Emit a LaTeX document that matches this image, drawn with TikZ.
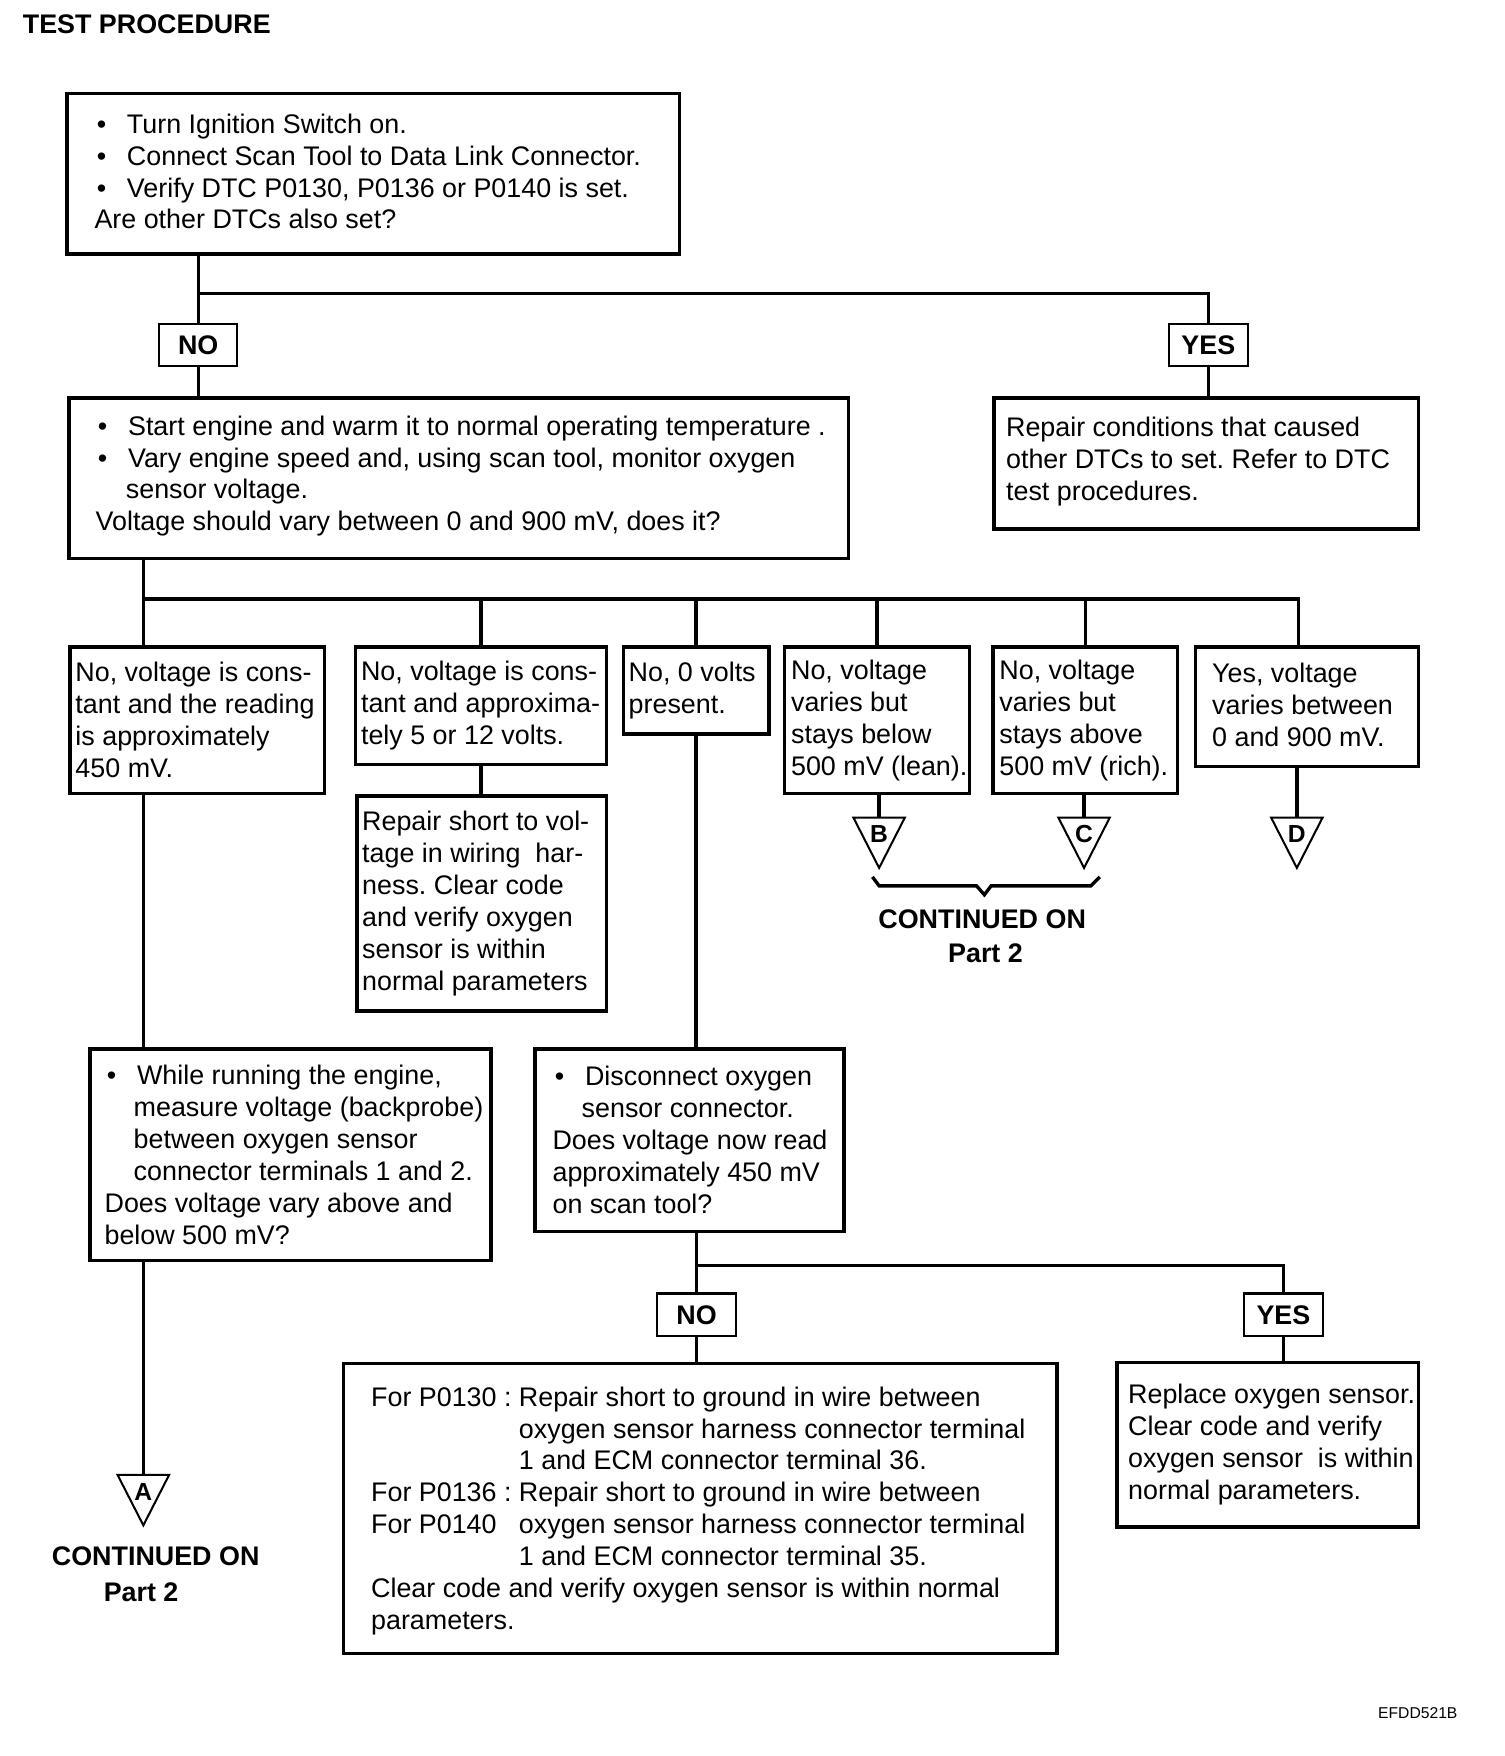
\documentclass[tikz,border=0pt]{standalone}
\usepackage{fontspec}
\setmainfont{Liberation Sans}
\frenchspacing

\tikzset{
  box/.style={draw, line width=1.6pt, anchor=north west, inner sep=0pt},
  txt/.style={anchor=west, align=left, inner sep=0pt, font=\fontsize{12}{14.25}\selectfont},
  tag/.style={draw, line width=0.9pt, minimum width=35pt, minimum height=19pt, inner sep=0pt, font=\bfseries\fontsize{12}{14}\selectfont},
  wire/.style={line width=1.5pt},
  tri/.style={line width=0.9pt, line join=miter},
  lettr/.style={inner sep=0pt, font=\bfseries\fontsize{11}{12}\selectfont},
  cont/.style={inner sep=0pt, font=\bfseries\fontsize{12}{14}\selectfont},
}
\newcommand{\itm}{\makebox[14.5pt][l]{\hspace*{1pt}\textbullet}}
\newcommand{\offpage}[3]{%
  \coordinate (#1) at #2;
  \draw[tri] (#1) ++(-23,0) -- ++(46,0) -- ++(-23,45) -- cycle;
  \node[lettr] (#1l) at ([yshift=-7.5pt]#1) {#3};}

\begin{document}
\begin{tikzpicture}[x=0.5pt, y=-0.5pt]
        \useasboundingbox (0,0) rectangle (1343,1568);

        \node[anchor=west, inner sep=0pt, font=\bfseries\fontsize{12}{14}\selectfont] (title) at (20,22) {TEST PROCEDURE};

        \node[box, minimum width=273.5pt, minimum height=71.5pt] (chk) at (58,82) {};
        \node[txt] (chktxt) at ([xshift=13pt,yshift=1pt]chk.west) {\itm Turn Ignition Switch on.\\
            \itm Connect Scan Tool to Data Link Connector.\\
            \itm Verify DTC P0130, P0136 or P0140 is set.\\
            Are other DTCs also set?};

        \node[tag] (no1) at (177,308) {NO};
        \node[tag] (yes1) at (1079,308) {YES};
        \coordinate (fork1) at (177,262);
        \draw[wire] (chk.south -| fork1) -- (no1.north);
        \draw[wire] (fork1) -| (yes1.north);

        \node[box, minimum width=348pt, minimum height=71.5pt] (run) at (60,354) {};
        \node[txt] (runtxt) at ([xshift=12.5pt,yshift=1pt]run.west) {\itm Start engine and warm it to normal operating temperature .\\
            \itm Vary engine speed and, using scan tool, monitor oxygen\\
            \hspace*{13.5pt}sensor voltage.\\
            Voltage should vary between 0 and 900 mV, does it?};
        \draw[wire] (no1.south) -- (no1.south |- run.north);

        \node[box, minimum width=189.5pt, minimum height=58.5pt] (other) at (886,354) {};
        \node[txt] (othertxt) at ([xshift=6pt,yshift=1pt]other.west) {Repair conditions that caused\\
            other DTCs to set. Refer to DTC\\
            test procedures.};
        \draw[wire] (yes1.south) -- (yes1.south |- other.north);

        % voltage branches
        \node[box, minimum width=113.5pt, minimum height=65.5pt] (cst) at (61,576) {};
        \node[txt] (csttxt) at ([xshift=3pt]cst.west) {No, voltage is cons-\\tant and the reading\\is approximately\\450 mV.};

        \node[box, minimum width=112pt, minimum height=52.5pt] (hi) at (316,576) {};
        \node[txt] (hitxt) at ([xshift=3pt]hi.west) {No, voltage is cons-\\tant and approxima-\\tely 5 or 12 volts.};

        \node[box, minimum width=65pt, minimum height=39pt] (zero) at (555,576) {};
        \node[txt] (zerotxt) at ([xshift=3pt]zero.west) {No, 0 volts\\present.};

        \node[box, minimum width=82.5pt, minimum height=65.5pt] (lean) at (699,576) {};
        \node[txt] (leantxt) at ([xshift=3.5pt]lean.west) {No, voltage\\varies but\\stays below\\500 mV (lean).};

        \node[box, minimum width=82.5pt, minimum height=65.5pt] (rich) at (885,576) {};
        \node[txt] (richtxt) at ([xshift=3.5pt]rich.west) {No, voltage\\varies but\\stays above\\500 mV (rich).};

        \node[box, minimum width=99.5pt, minimum height=53.5pt] (ok) at (1066,576) {};
        \node[txt] (oktxt) at ([xshift=8pt,yshift=1pt]ok.west) {Yes, voltage\\varies between\\0 and 900 mV.};

        \coordinate (fork2) at (128,535);
        \coordinate (okin) at ([xshift=-3.75pt]ok.north);
        \draw[wire] (run.south -| fork2) -- (cst.north -| fork2);
        \draw[wire] (fork2) -| (okin);
        \foreach \n in {hi,zero,lean,rich}
            \draw[wire] (\n.north |- fork2) -- (\n.north);

        \node[box, minimum width=111.5pt, minimum height=96pt] (volt) at (317,709) {};
        \node[txt] (volttxt) at ([xshift=3pt]volt.west) {Repair short to vol-\\tage in wiring\ \ har-\\ness. Clear code\\and verify oxygen\\sensor is within\\normal parameters};
        \draw[wire] (hi.south) -- (hi.south |- volt.north);

        \offpage{tB}{(785,730)}{B}
        \offpage{tC}{(968,730)}{C}
        \offpage{tD}{(1158,730)}{D}
        \draw[wire] (lean.south -| tB) -- (tB);
        \draw[wire] (rich.south -| tC) -- (tC);
        \draw[wire] (ok.south -| tD) -- (tD);

        \draw[wire, line join=miter] (779,783) -- (785,791) -- (872,791) -- (879,799) -- (885,791) -- (974,791) -- (982,783);
        \node[cont] (cont1) at (877,821) {CONTINUED ON};
        \node[cont] (part1) at (880,851) {Part 2};

        % second level
        \node[box, minimum width=179pt, minimum height=94.5pt] (meas) at (79,935) {};
        \node[txt] (meastxt) at ([xshift=7pt]meas.west) {\itm While running the engine,\\
            \hspace*{13pt}measure voltage (backprobe)\\
            \hspace*{13pt}between oxygen sensor\\
            \hspace*{13pt}connector terminals 1 and 2.\\
            Does voltage vary above and\\
            below 500 mV?};
        \draw[wire] (cst.south -| fork2) -- (meas.north -| fork2);

        \offpage{tA}{(128,1317)}{A}
        \draw[wire] (meas.south -| tA) -- (tA);
        \node[cont] (cont2) at (139,1390) {CONTINUED ON};
        \node[cont] (part2) at (126,1422) {Part 2};

        \node[box, minimum width=138pt, minimum height=81.5pt] (disc) at (476,935) {};
        \node[txt] (disctxt) at ([xshift=8.5pt]disc.west) {\itm Disconnect oxygen\\
            \hspace*{13pt}sensor connector.\\
            Does voltage now read\\
            approximately 450 mV\\
            on scan tool?};
        \draw[wire] (zero.south) -- (zero.south |- disc.north);

        \node[tag] (no2) at (622,1174) {NO};
        \node[tag] (yes2) at (1146,1174) {YES};
        \coordinate (fork3) at (622,1130);
        \draw[wire] (disc.south -| fork3) -- (no2.north);
        \draw[wire] (fork3) -| (yes2.north);

        \node[box, minimum width=318.5pt, minimum height=129.5pt] (short) at (305,1216) {};
        \node[txt] (shorttxt) at ([xshift=13pt,yshift=-1pt]short.west) {\makebox[66pt][l]{For P0130 :}Repair short to ground in wire between\\
            \hspace*{66pt}oxygen sensor harness connector terminal\\
            \hspace*{66pt}1 and ECM connector terminal 36.\\
            \makebox[66pt][l]{For P0136 :}Repair short to ground in wire between\\
            \makebox[66pt][l]{For P0140}oxygen sensor harness connector terminal\\
            \hspace*{66pt}1 and ECM connector terminal 35.\\
            Clear code and verify oxygen sensor is within normal\\
            parameters.};
        \draw[wire] (no2.south) -- (no2.south |- short.north);

        \node[box, minimum width=134.5pt, minimum height=73.5pt] (repl) at (996,1215) {};
        \node[txt] (repltxt) at ([xshift=5.5pt]repl.west) {Replace oxygen sensor.\\
            Clear code and verify\\
            oxygen sensor\ \ is within\\
            normal parameters.};
        \draw[wire] (yes2.south) -- (yes2.south |- repl.north);

        \node[inner sep=0pt, font=\fontsize{7}{8}\selectfont] (code) at (1266,1530) {EFDD521B};
\end{tikzpicture}
\end{document}
